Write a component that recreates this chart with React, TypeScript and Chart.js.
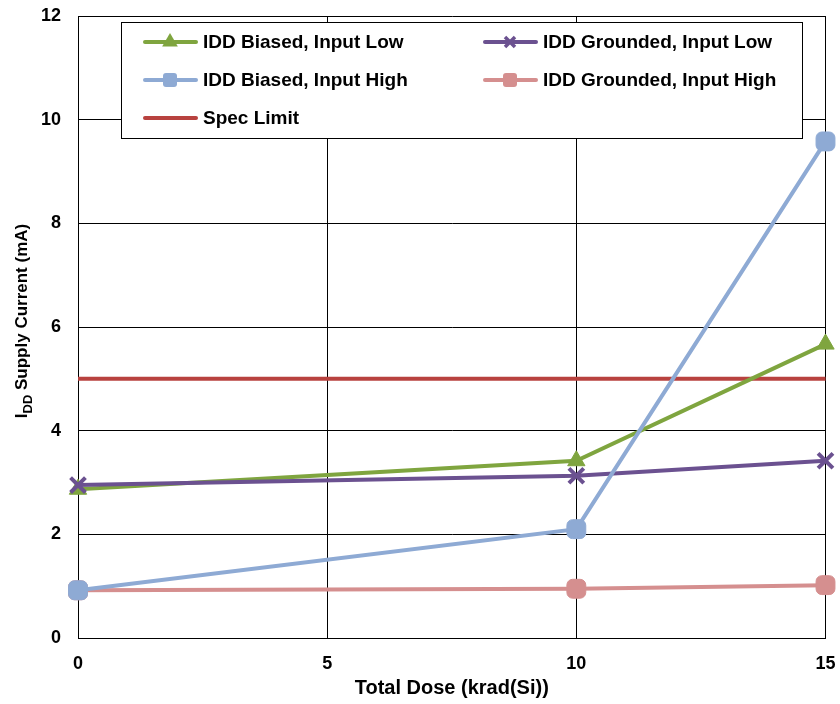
import React, { useEffect, useRef } from "react";
import { Chart, registerables } from "chart.js";

Chart.register(...registerables);

const doses = [0, 10, 15];
const biasedLow = [2.87, 3.42, 5.67];
const groundedLow = [2.95, 3.13, 3.42];
const biasedHigh = [0.92, 2.1, 9.58];
const groundedHigh = [0.92, 0.95, 1.02];
const specDoses = [0, 15];
const specLimit = [5, 5];

const seriesLabels = [
  "IDD Biased, Input Low",
  "IDD Grounded, Input Low",
  "IDD Biased, Input High",
  "IDD Grounded, Input High",
  "Spec Limit",
];

const FONT = "'Liberation Sans', Arial, sans-serif";

const pts = (xs: number[], ys: number[]) => xs.map((x, i) => ({ x, y: ys[i] }));

// Small marker shapes for the legend swatches
function drawMarker(ctx: CanvasRenderingContext2D, style: string, color: string, x: number, y: number) {
  ctx.save();
  ctx.fillStyle = color;
  ctx.strokeStyle = color;
  if (style === "triangle") {
    const r = 9;
    ctx.beginPath();
    ctx.moveTo(x, y - r);
    ctx.lineTo(x + r * 0.87, y + r * 0.5);
    ctx.lineTo(x - r * 0.87, y + r * 0.5);
    ctx.closePath();
    ctx.fill();
  } else if (style === "crossRot") {
    const d = 5;
    ctx.lineWidth = 3.5;
    ctx.lineCap = "butt";
    ctx.beginPath();
    ctx.moveTo(x - d, y - d);
    ctx.lineTo(x + d, y + d);
    ctx.moveTo(x + d, y - d);
    ctx.lineTo(x - d, y + d);
    ctx.stroke();
  } else if (style === "rectRounded") {
    const s = 14;
    const r = 3;
    const l = x - s / 2, t = y - s / 2;
    ctx.beginPath();
    ctx.moveTo(l + r, t);
    ctx.arcTo(l + s, t, l + s, t + s, r);
    ctx.arcTo(l + s, t + s, l, t + s, r);
    ctx.arcTo(l, t + s, l, t, r);
    ctx.arcTo(l, t, l + s, t, r);
    ctx.closePath();
    ctx.fill();
  }
  ctx.restore();
}

// Legend drawn inside the plot area, two columns
const boxLegend = {
  id: "boxLegend",
  afterDraw(chart: any) {
    const ctx = chart.ctx;
    const left = 121, top = 22, right = 802, bottom = 138;
    ctx.save();
    ctx.fillStyle = "#fff";
    ctx.fillRect(left, top, right - left, bottom - top);
    ctx.strokeStyle = "#000";
    ctx.lineWidth = 1;
    ctx.strokeRect(left + 0.5, top + 0.5, right - left, bottom - top);
    const slots = [
      [0, 143, 42],
      [1, 483, 42],
      [2, 143, 80],
      [3, 483, 80],
      [4, 143, 118],
    ];
    ctx.font = `bold 19px ${FONT}`;
    ctx.textBaseline = "middle";
    for (const [idx, x, y] of slots) {
      const ds = chart.data.datasets[idx];
      ctx.strokeStyle = ds.borderColor;
      ctx.lineWidth = 4;
      ctx.lineCap = "round";
      ctx.beginPath();
      ctx.moveTo(x + 2, y);
      ctx.lineTo(x + 53, y);
      ctx.stroke();
      if (ds.pointRadius > 0) {
        drawMarker(ctx, ds.pointStyle, ds.pointBackgroundColor, x + 27, y);
      }
      ctx.fillStyle = "#000";
      ctx.fillText(seriesLabels[idx], x + 60, y + 1);
    }
    ctx.restore();
  },
};

// Y axis title with subscript "DD"
const yTitle = {
  id: "yTitle",
  afterDraw(chart: any) {
    const ctx = chart.ctx;
    const area = chart.chartArea;
    const cy = (area.top + area.bottom) / 2 - 6;
    ctx.save();
    ctx.translate(21, cy);
    ctx.rotate(-Math.PI / 2);
    ctx.fillStyle = "#000";
    ctx.textBaseline = "alphabetic";
    const big = `bold 17px ${FONT}`;
    const small = `bold 13px ${FONT}`;
    const parts: [string, string, number][] = [
      ["I", big, 0],
      ["DD", small, 5],
      [" Supply Current (mA)", big, 0],
    ];
    let total = 0;
    for (const [t, f] of parts) {
      ctx.font = f;
      total += ctx.measureText(t).width;
    }
    let x = -total / 2;
    for (const [t, f, dy] of parts) {
      ctx.font = f;
      ctx.fillText(t, x, 6 + dy);
      x += ctx.measureText(t).width;
    }
    ctx.restore();
  },
};

export default function App() {
  const ref = useRef<HTMLCanvasElement>(null);
  useEffect(() => {
    if (!ref.current) return;
    const green = "#7fa53f";
    const purple = "#6b5190";
    const blue = "#8eaad4";
    const pink = "#d58f8f";
    const red = "#b8423f";
    const chart = new Chart(ref.current, {
      type: "line",
      data: {
        datasets: [
          {
            label: seriesLabels[0],
            data: pts(doses, biasedLow),
            borderColor: green,
            backgroundColor: green,
            pointBackgroundColor: green,
            pointBorderColor: green,
            pointBorderWidth: 1,
            pointStyle: "triangle",
            pointRadius: 10,
            borderWidth: 4,
            order: 2,
          },
          {
            label: seriesLabels[1],
            data: pts(doses, groundedLow),
            borderColor: purple,
            backgroundColor: purple,
            pointBackgroundColor: purple,
            pointBorderColor: purple,
            pointBorderWidth: 4,
            pointStyle: "crossRot",
            pointRadius: 10.5,
            borderWidth: 4,
            order: 1,
          },
          {
            label: seriesLabels[2],
            data: pts(doses, biasedHigh),
            borderColor: blue,
            backgroundColor: blue,
            pointBackgroundColor: blue,
            pointBorderColor: blue,
            pointBorderWidth: 1,
            pointStyle: "rectRounded",
            pointRadius: 11,
            borderWidth: 4,
            order: 0,
          },
          {
            label: seriesLabels[3],
            data: pts(doses, groundedHigh),
            borderColor: pink,
            backgroundColor: pink,
            pointBackgroundColor: pink,
            pointBorderColor: pink,
            pointBorderWidth: 1,
            pointStyle: "rectRounded",
            pointRadius: 11,
            borderWidth: 4,
            order: 3,
          },
          {
            label: seriesLabels[4],
            data: pts(specDoses, specLimit),
            borderColor: red,
            backgroundColor: red,
            pointRadius: 0,
            borderWidth: 4,
            order: 4,
          },
        ],
      },
      options: {
        animation: false,
        responsive: false,
        clip: false as any,
        layout: { padding: { top: 16, right: 14, left: 0, bottom: 0 } },
        plugins: {
          legend: { display: false },
          tooltip: { enabled: false },
        },
        scales: {
          x: {
            type: "linear",
            min: 0,
            max: 15,
            ticks: {
              stepSize: 5,
              color: "#000",
              font: { family: FONT, size: 18, weight: "bold" },
              padding: 15,
            },
            grid: { color: "#000", lineWidth: 1, drawTicks: false },
            border: { color: "#000", width: 1 },
            title: {
              display: true,
              text: "Total Dose (krad(Si))",
              color: "#000",
              font: { family: FONT, size: 20, weight: "bold" },
              padding: { top: 6 },
            },
            afterFit(scale: any) {
              scale.height = 66;
              scale.paddingLeft = 0;
              scale.paddingRight = 0;
            },
          },
          y: {
            min: 0,
            max: 12,
            ticks: {
              stepSize: 2,
              color: "#000",
              font: { family: FONT, size: 18, weight: "bold" },
              padding: 17,
            },
            grid: { color: "#000", lineWidth: 1, drawTicks: false },
            border: { color: "#000", width: 1 },
            afterFit(scale: any) {
              scale.width = 78;
              scale.paddingTop = 0;
              scale.paddingBottom = 0;
            },
          },
        },
      },
      plugins: [boxLegend, yTitle],
    } as any);
    return () => chart.destroy();
  }, []);
  return (
    <div style={{ position: "absolute", left: 0, top: 0, width: 840, height: 704, background: "#fff" }}>
      <canvas ref={ref} width={840} height={704} style={{ width: 840, height: 704 }} />
    </div>
  );
}
